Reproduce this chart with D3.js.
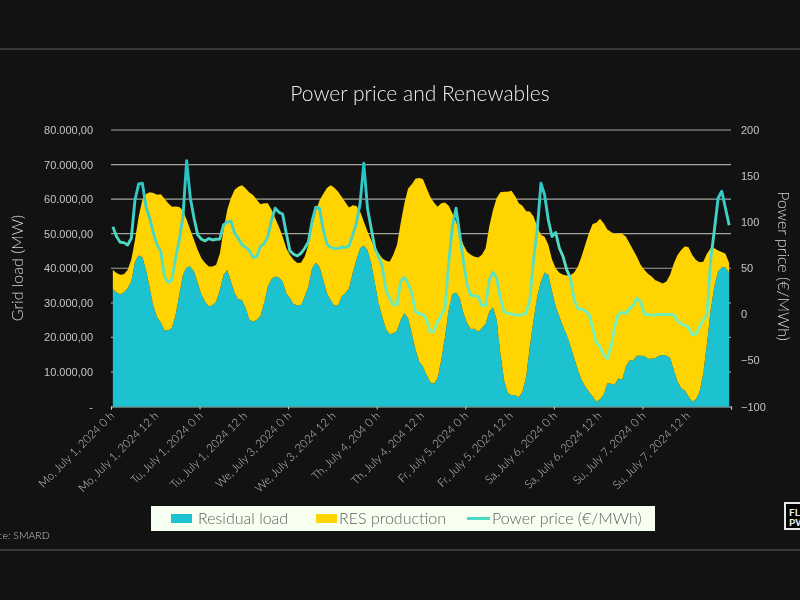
<!DOCTYPE html>
<html>
<head>
<meta charset="utf-8">
<script src="https://cdn.jsdelivr.net/npm/d3@7"></script>
<style>
  html, body { margin: 0; padding: 0; background: #121212; }
  svg { display: block; font-family: Lato, sans-serif; }
  .axis text { fill: #c4c4c0; }
  .axis text, .plain { filter: grayscale(1); } /* keeps the thin text from colour fringing */
</style>
</head>
<body>
<svg id="chart" width="800" height="600"></svg>
<script>
// values, one per hour of the week
const residualLoad = [33900,33000,32500,33000,34200,36200,41900,43700,43200,39500,34200,28900,25800,24300,22000,22000,22700,26500,32300,38100,40300,40500,39000,35700,
  32300,30400,28900,29300,30400,33700,38100,39500,36200,32800,31000,30800,28400,25100,24500,25100,26200,29900,34700,36900,37600,37300,36200,32800,
  31300,29600,29300,29400,31800,34700,40000,41600,40400,36600,32800,30800,29200,29200,31800,32800,34200,38600,42400,45800,46600,45300,41500,35700,
  29900,26000,22400,20900,21200,21900,25100,27000,25500,21200,16400,13000,11600,9200,7000,6600,8200,13500,20200,28000,32500,33000,31300,27000,
  24100,22400,22500,21600,22700,23900,27500,28700,25100,15400,7700,3900,3300,3300,2700,4300,8700,17400,25100,31800,36200,38800,38100,33300,
  28900,26000,23100,20700,17400,14000,10600,7700,5800,4300,2900,1400,2100,3400,6700,6600,6300,8200,7700,11600,13300,13300,14700,14700,
  14600,13800,13800,14000,14700,14900,14700,14000,10600,7200,5300,4600,2900,1400,2100,4300,9600,18300,28000,34700,39000,40300,40300,38600];
const resProduction = [5600,5600,5600,5300,5300,6300,6300,11300,16600,22000,27800,32900,35500,37100,38100,36800,35100,31400,25400,18600,13700,10600,9200,9600,
  10600,11100,11600,11200,10600,10600,13000,17400,24100,29900,32600,33200,34700,36800,36700,34700,32300,28900,24100,20000,16900,14700,13000,13000,
  12500,12800,12200,12200,11600,12100,12100,15000,19200,24900,30400,33200,34100,33000,28900,26300,23400,19600,15600,10600,6900,5300,6700,10100,
  14500,16900,19800,21000,22700,24900,28000,31800,37600,43100,49500,53100,54200,54000,53700,52400,49600,45300,38800,30100,23400,20500,18300,19800,
  20700,21500,20800,21500,21200,21900,24600,28100,35200,46600,54400,58200,59100,57600,56100,53800,47800,39000,29900,20200,13500,10300,8700,9200,
  11100,12700,15000,17200,20600,24800,29900,35700,41000,45800,49900,51800,52200,49600,44500,43900,43600,41900,42300,37600,33900,32000,28600,26300,
  25000,24600,23800,22500,21400,20700,21500,24100,30800,36600,40000,41800,43200,42400,40300,37400,32300,26000,17800,11100,6100,4400,3900,2900];
const powerPrice = [95,84.4,78.2,77.8,75.3,82.5,124.1,141.5,142.2,116.2,104.2,88,75.3,68.1,41,34.5,37.4,60.9,80.7,106,166.8,125.9,104.2,86.2,
  81.5,79.7,82.2,80.7,81.5,81.8,97,100.3,101,88,82.5,75.3,72.8,69.2,61.6,62.7,74.2,76.4,84.4,102.4,115.1,110.7,108.9,88,
  68.8,65.2,63.4,66.3,71.7,78.9,101.3,116.2,115.1,91.6,76.4,72.8,71.3,71.3,73.1,72.4,74.2,86.2,98.8,120.5,163.9,115.1,93.4,71.7,
  62.7,51.8,26.5,17.5,10.3,10.3,36.3,39.9,33.8,22.9,2.7,0.5,0.1,-6,-19,-18.3,-7.8,-0.6,6.7,55.4,95,115.1,86.2,57.2,
  32,20.4,20.4,19.3,9.5,9.5,37.4,45.7,39.2,17.5,3,0.9,0.5,-0.6,-0.9,-0.6,1.6,15.7,59.1,91.6,142.2,129.5,102.4,84.4,
  88.7,71.7,62.7,48.2,39.2,15.7,6,5.6,3.8,0.1,-15,-30.6,-34.9,-43.9,-47.9,-34.9,-13.2,0.1,2.3,0.9,6,9.2,17.5,13.9,
  0.1,-0.2,-0.9,-0.6,-0.2,-0.2,-0.2,-0.2,-0.6,-6.7,-10.3,-12.1,-13.9,-22.3,-21.5,-13.2,-6,-0.6,59.1,91.6,125.9,133.5,115.1,96.6];
const xLabels = ['Mo, July 1, 2024 0 h','Mo, July 1, 2024 12 h','Tu, July 1, 2024 0 h','Tu, July 1, 2024 12 h',
  'We, July 3, 2024 0 h','We, July 3, 2024 12 h','Th, July 4, 204 0 h','Th, July 4, 204 12 h',
  'Fr, July 5, 2024 0 h','Fr, July 5, 2024 12 h','Sa, July 6, 2024 0 h','Sa, July 6, 2024 12 h',
  'Su, July 7, 2024 0 h','Su, July 7, 2024 12 h'];
const loadTicks = [0,10000,20000,30000,40000,50000,60000,70000,80000];
const priceTicks = [-100,-50,0,50,100,150,200];
const hours = d3.range(residualLoad.length);

const svg = d3.select('#chart');
const plotLeft = 111, plotRight = 731, plotTop = 130, plotBottom = 406.5;

const x = d3.scaleLinear().domain([0, hours.length]).range([plotLeft, plotRight]);
const yLoad = d3.scaleLinear().domain([0, 80000]).range([plotBottom, plotTop]);
const yPrice = d3.scaleLinear().domain([-100, 200]).range([plotBottom, plotTop]);
const hourX = (i) => x(i + 0.5);

// frame rules above and below the chart
svg.selectAll('.rule').data([49, 550]).join('line')
  .attr('class', 'rule')
  .attr('x1', 0).attr('x2', 800)
  .attr('y1', (d) => d).attr('y2', (d) => d)
  .attr('stroke', '#5f5f59').attr('stroke-width', 1.2);

svg.append('text').attr('class', 'plain').attr('x', 420).attr('y', 101)
  .attr('text-anchor', 'middle')
  .attr('fill', '#ececE8').attr('font-size', 21).attr('font-weight', 300)
  .text('Power price and Renewables');

// gridlines sit behind the areas
svg.append('g').selectAll('line').data(loadTicks.slice(1)).join('line')
  .attr('x1', plotLeft).attr('x2', plotRight)
  .attr('y1', (d) => yLoad(d)).attr('y2', (d) => yLoad(d))
  .attr('stroke', '#a4a49c').attr('stroke-width', 1.2);

const stacked = d3.stack().keys(['residual', 'res'])(
  hours.map((i) => ({ residual: residualLoad[i], res: resProduction[i] })));
const area = d3.area()
  .x((d, i) => hourX(i))
  .y0((d) => yLoad(d[0]))
  .y1((d) => yLoad(d[1]));
svg.append('g').selectAll('path').data(stacked).join('path')
  .attr('d', area)
  .attr('fill', (d) => (d.key === 'residual' ? '#1dc2d0' : '#ffd400'));

// price line goes from teal at the top to mint further down
const grad = svg.append('defs').append('linearGradient')
  .attr('id', 'priceGrad').attr('gradientUnits', 'userSpaceOnUse')
  .attr('x1', 0).attr('x2', 0).attr('y1', plotTop + 30).attr('y2', plotBottom - 80);
grad.append('stop').attr('offset', 0).attr('stop-color', '#22bfc9');
grad.append('stop').attr('offset', 1).attr('stop-color', '#78f2bd');

svg.append('path')
  .datum(powerPrice)
  .attr('fill', 'none')
  .attr('stroke', 'url(#priceGrad)')
  .attr('stroke-width', 2.9)
  .attr('stroke-linejoin', 'round')
  .attr('d', d3.line().x((d, i) => hourX(i)).y((d) => yPrice(d)));

// bottom axis: labels every 12 h, tick marks every 24 h
const xTickAxis = svg.append('g').attr('class', 'axis')
  .attr('transform', `translate(0,${plotBottom})`)
  .call(d3.axisBottom(x).tickValues(d3.range(0, hours.length + 1, 24)).tickSize(3).tickFormat(''));
xTickAxis.select('.domain').attr('stroke', '#8fd4d4').attr('stroke-width', 1.2);
xTickAxis.selectAll('.tick line').attr('stroke', '#cfcfca');

svg.append('g').attr('class', 'axis').selectAll('text').data(xLabels).join('text')
  .attr('transform', (d, i) => `translate(${x(i * 12) + 4},${plotBottom + 10}) rotate(-45)`)
  .attr('text-anchor', 'end')
  .attr('font-size', 11.4).attr('font-weight', 300)
  .text((d) => d);

const loadFormat = (d) => (d === 0 ? '-' : `${d3.format(',')(d).replace(/,/g, '.')},00`);
const yLoadAxis = svg.append('g').attr('class', 'axis')
  .attr('transform', `translate(${plotLeft},0)`)
  .call(d3.axisLeft(yLoad).tickValues(loadTicks).tickSize(0).tickPadding(18).tickFormat(loadFormat));
yLoadAxis.select('.domain').remove();
yLoadAxis.selectAll('text').attr('font-size', 11).attr('font-weight', 300);

const yPriceAxis = svg.append('g').attr('class', 'axis')
  .attr('transform', `translate(${plotRight},0)`)
  .call(d3.axisRight(yPrice).tickValues(priceTicks).tickSize(0).tickPadding(10));
yPriceAxis.select('.domain').remove();
yPriceAxis.selectAll('text').attr('font-size', 11).attr('font-weight', 300);

svg.append('text').attr('class', 'plain')
  .attr('transform', 'translate(23,268) rotate(-90)')
  .attr('text-anchor', 'middle').attr('fill', '#d6d6d2').attr('font-size', 16).attr('font-weight', 300)
  .text('Grid load (MW)');
svg.append('text').attr('class', 'plain')
  .attr('transform', 'translate(778,266) rotate(90)')
  .attr('text-anchor', 'middle').attr('fill', '#d6d6d2').attr('font-size', 16).attr('font-weight', 300)
  .text('Power price (€/MWh)');

// legend
const legend = svg.append('g');
legend.append('rect').attr('x', 151).attr('y', 506).attr('width', 504).attr('height', 25).attr('fill', '#f6fff0');
legend.append('rect').attr('x', 171).attr('y', 514).attr('width', 21).attr('height', 9).attr('fill', '#1dc2d0');
legend.append('rect').attr('x', 316).attr('y', 514).attr('width', 21).attr('height', 9).attr('fill', '#ffd400');
legend.append('line').attr('x1', 467).attr('x2', 490).attr('y1', 518.5).attr('y2', 518.5)
  .attr('stroke', '#3fd8c0').attr('stroke-width', 2.8);
legend.selectAll('text').data([
  { label: 'Residual load', at: 198 },
  { label: 'RES production', at: 339 },
  { label: 'Power price (€/MWh)', at: 492 },
]).join('text')
  .attr('class', 'plain')
  .attr('x', (d) => d.at).attr('y', 524)
  .attr('fill', '#5e625c').attr('font-size', 16).attr('font-weight', 300)
  .text((d) => d.label);

svg.append('text').attr('class', 'plain').attr('x', -23).attr('y', 539)
  .attr('fill', '#c4c4c0').attr('font-size', 10.5).attr('font-weight', 300)
  .text('Source: SMARD');

// logo, cut off by the right edge
svg.append('rect').attr('x', 785).attr('y', 503).attr('width', 30).attr('height', 26)
  .attr('fill', '#000').attr('stroke', '#e8e8e8').attr('stroke-width', 2);
svg.selectAll('.logo').data([{ t: 'FLEX', y: 515.5 }, { t: 'PWR', y: 526 }]).join('text')
  .attr('class', 'logo')
  .attr('x', 789).attr('y', (d) => d.y)
  .attr('fill', '#f0f0f0').attr('font-size', 10).attr('font-weight', 700)
  .text((d) => d.t);
</script>
</body>
</html>
